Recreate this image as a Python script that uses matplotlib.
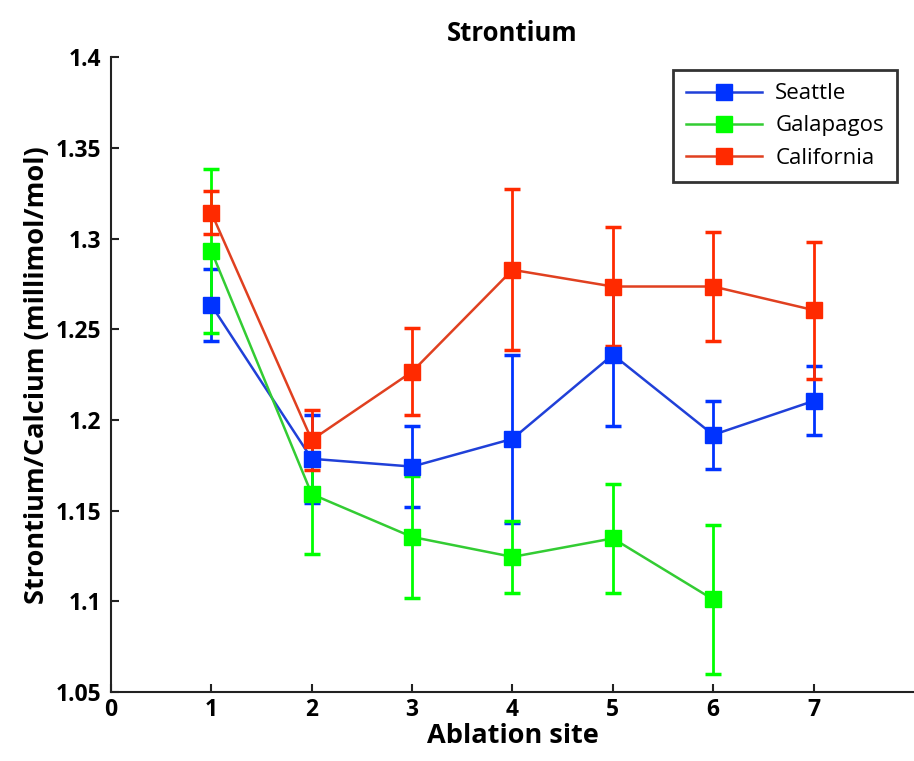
import matplotlib
matplotlib.use("Agg")
import matplotlib.pyplot as plt
from matplotlib.lines import Line2D

sites = [1, 2, 3, 4, 5, 6, 7]
seattle = [1.2633, 1.1786, 1.1743, 1.1896, 1.2360, 1.1918, 1.2105]
seattle_err = [0.0197, 0.0243, 0.0223, 0.0464, 0.0392, 0.0188, 0.0190]
galapagos_sites = [1, 2, 3, 4, 5, 6]
galapagos = [1.2932, 1.1591, 1.1355, 1.1245, 1.1347, 1.1010]
galapagos_err = [0.0453, 0.0332, 0.0335, 0.0197, 0.0300, 0.0409]
california = [1.3143, 1.1890, 1.2266, 1.2828, 1.2736, 1.2736, 1.2606]
california_err = [0.0120, 0.0167, 0.0240, 0.0444, 0.0326, 0.0300, 0.0378]

plt.rcParams['font.family'] = ['Open Sans', 'DejaVu Sans']

fig = plt.figure(figsize=(9.14, 7.61), dpi=100)
ax = fig.add_axes([0.1214, 0.0907, 0.8786, 0.834])

series = [
    ("Seattle", sites, seattle, seattle_err, "#0033ff", "#2040d8"),
    ("Galapagos", galapagos_sites, galapagos, galapagos_err, "#00ff00", "#33cc33"),
    ("California", sites, california, california_err, "#ff2a00", "#e04020"),
]
handles = []
for name, xs, ys, es, mc, lc in series:
    ax.errorbar(xs, ys, yerr=es, color=lc, ecolor=mc, elinewidth=2, capsize=5.5,
                capthick=2.5, lw=1.8, marker='s', markersize=12, markerfacecolor=mc,
                markeredgecolor=mc)
    handles.append(Line2D([], [], color=lc, lw=1.8, marker='s', markersize=12,
                          markerfacecolor=mc, markeredgecolor=mc, label=name))

ax.set_xlim(0, 8)
ax.set_ylim(1.05, 1.4)
ax.set_xticks([0, 1, 2, 3, 4, 5, 6, 7])
ax.set_yticks([1.05, 1.1, 1.15, 1.2, 1.25, 1.3, 1.35, 1.4])
ax.set_yticklabels(['1.05', '1.1', '1.15', '1.2', '1.25', '1.3', '1.35', '1.4'])
for s in ['top', 'right']:
    ax.spines[s].set_visible(False)
for s in ['left', 'bottom']:
    ax.spines[s].set_linewidth(1.5)
    ax.spines[s].set_color('#222222')
ax.tick_params(direction='in', length=6, width=1.5, labelsize=17, colors='#222222')
ax.tick_params(axis='y', pad=7)
ax.tick_params(axis='x', pad=4)
for lab in ax.get_xticklabels() + ax.get_yticklabels():
    lab.set_fontweight('bold')
    lab.set_fontsize(16.5)
    lab.set_color('black')

ax.set_xlabel('Ablation site', fontsize=19.5, fontweight='bold', labelpad=1)
ax.set_ylabel('Strontium/Calcium (millimol/mol)', fontsize=19.5, fontweight='bold', labelpad=4)
ax.set_title('Strontium', fontsize=18.5, fontweight='bold', pad=12)

leg = ax.legend(handles=handles, loc='upper right', bbox_to_anchor=(0.979, 0.98),
                borderaxespad=0, fontsize=16, frameon=True, fancybox=False,
                edgecolor='black', handlelength=3.4, borderpad=0.6,
                labelspacing=0.5, handletextpad=0.6)
leg.get_frame().set_linewidth(2)

fig.savefig('out.png', dpi=100)
